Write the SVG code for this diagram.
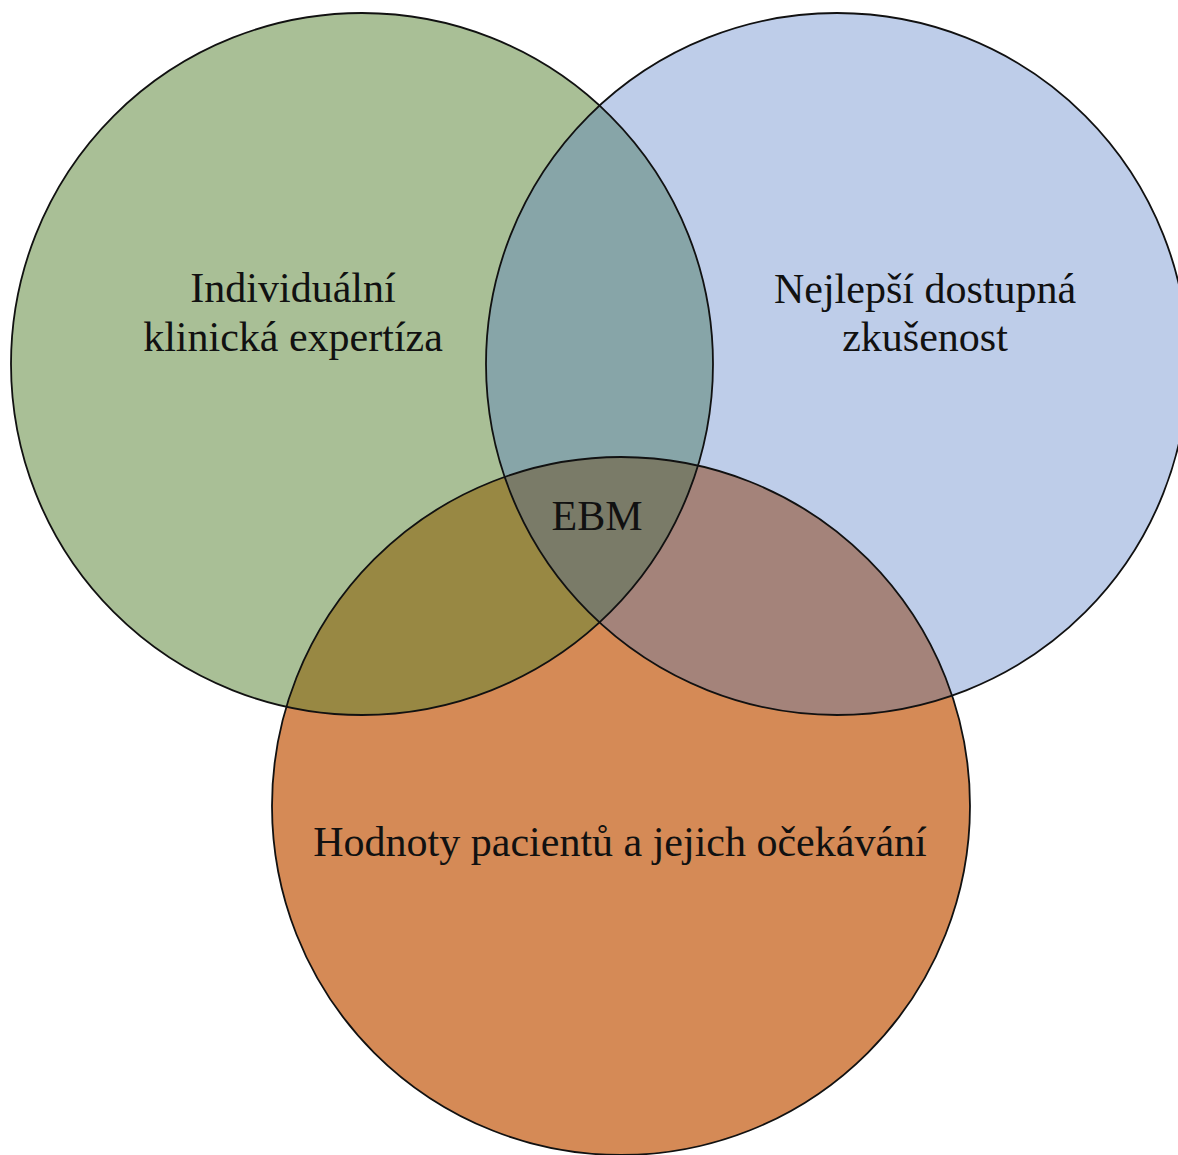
<svg xmlns="http://www.w3.org/2000/svg" width="1178" height="1155" viewBox="0 0 1178 1155">
<style>
.lbl{font-family:"Liberation Serif","Times New Roman",serif;font-size:42px;fill:#111;text-anchor:middle}
.ring{fill:none;stroke:#111;stroke-width:1.8}
</style>
<defs>
<clipPath id="cG"><circle cx="362" cy="364" r="351"/></clipPath>
<clipPath id="cB"><circle cx="837" cy="364" r="351"/></clipPath>
<clipPath id="cO"><circle cx="621" cy="806" r="349"/></clipPath>
</defs>
<rect width="1178" height="1155" fill="#fff"/>
<g id="fills">
<circle cx="362" cy="364" r="351" fill="#A9BF96"/>
<circle cx="837" cy="364" r="351" fill="#BECDE9"/>
<circle cx="621" cy="806" r="349" fill="#D58A56"/>
<circle cx="837" cy="364" r="351" fill="#87A5A8" clip-path="url(#cG)"/>
<circle cx="621" cy="806" r="349" fill="#988843" clip-path="url(#cG)"/>
<circle cx="621" cy="806" r="349" fill="#A4837A" clip-path="url(#cB)"/>
<g clip-path="url(#cB)"><circle cx="621" cy="806" r="349" fill="#7A7B68" clip-path="url(#cG)"/></g>
</g>
<g id="node-expertiza">
<circle class="ring" cx="362" cy="364" r="351"/>
<text class="lbl" x="293" y="302">Individuální</text>
<text class="lbl" x="293" y="351">klinická expertíza</text>
</g>
<g id="node-zkusenost">
<circle class="ring" cx="837" cy="364" r="351"/>
<text class="lbl" x="925" y="303">Nejlepší dostupná</text>
<text class="lbl" x="925" y="351">zkušenost</text>
</g>
<g id="node-hodnoty">
<circle class="ring" cx="621" cy="806" r="349"/>
<text class="lbl" x="620" y="856">Hodnoty pacientů a jejich očekávání</text>
</g>
<g id="node-ebm">
<text class="lbl" x="597" y="530">EBM</text>
</g>
<g id="connectors"/>
</svg>
